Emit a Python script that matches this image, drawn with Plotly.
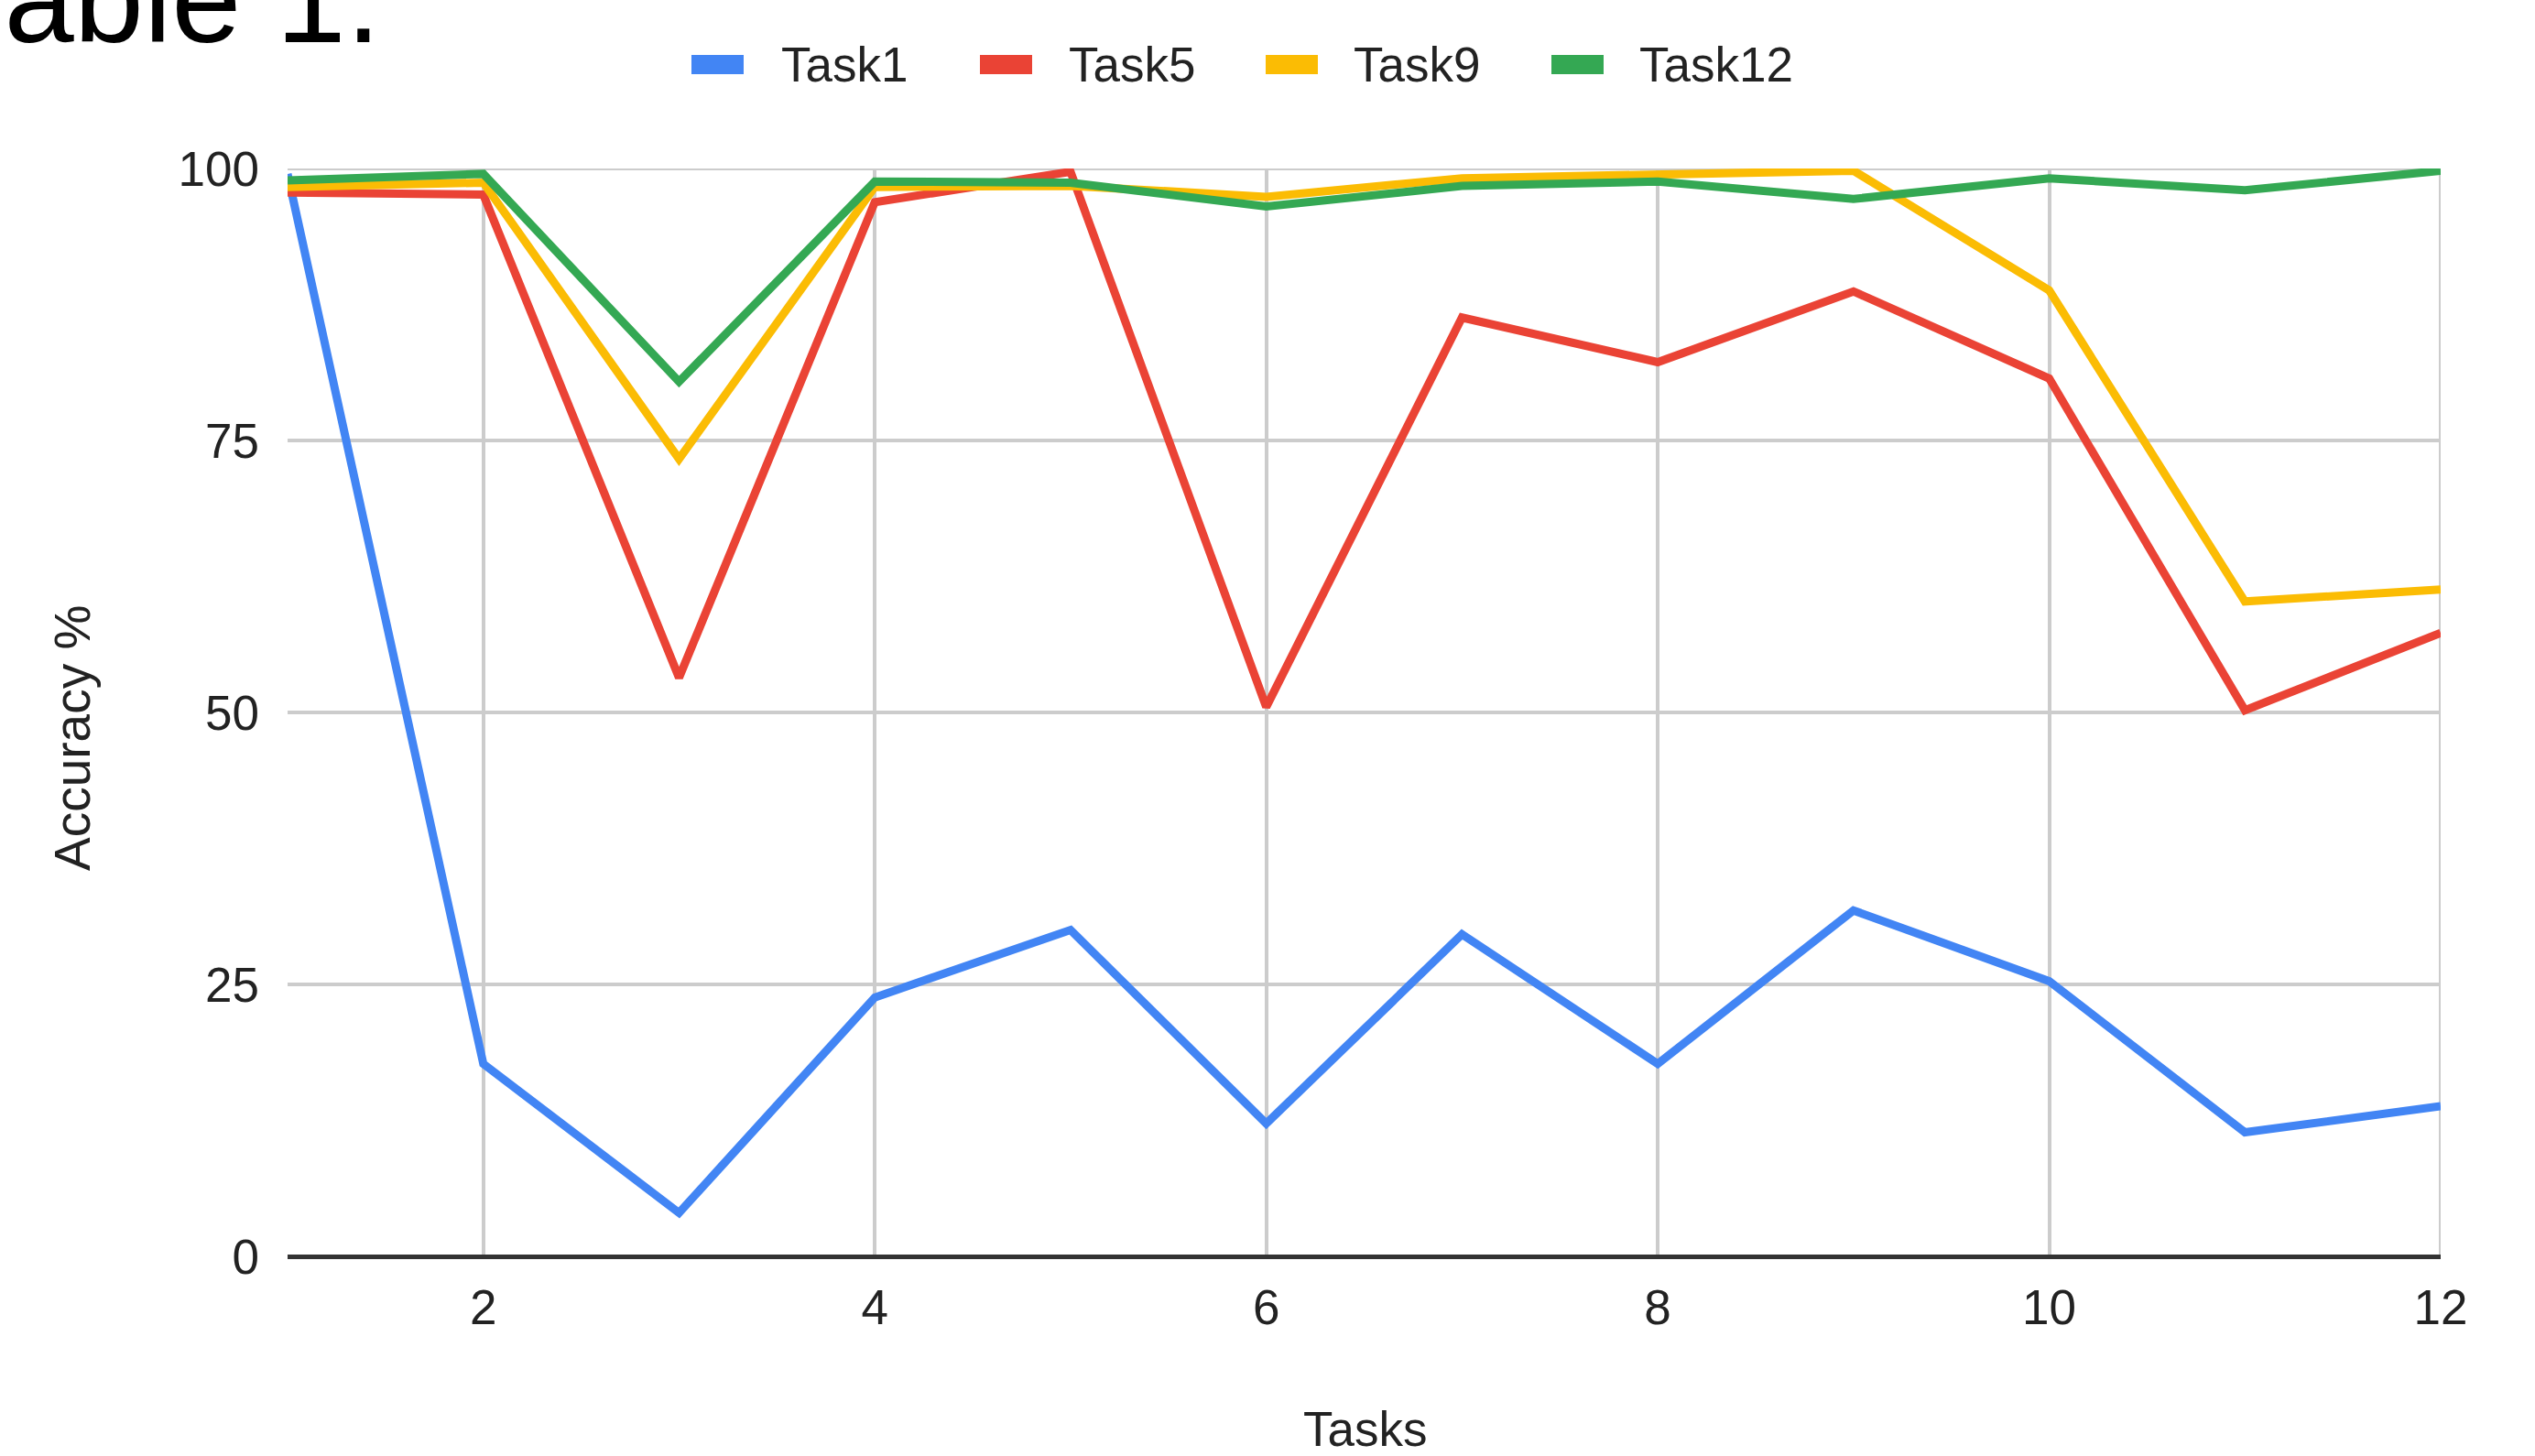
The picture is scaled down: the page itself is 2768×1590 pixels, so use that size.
import plotly.graph_objects as go

# Accuracy (%) on each earlier task after training on tasks 1..12
tasks = list(range(1, 13))
task1 = [99.5, 17.7, 4.0, 23.8, 30.0, 12.2, 29.6, 17.7, 31.8, 25.3, 11.4, 13.8]
task5 = [97.8, 97.6, 53.2, 96.9, 99.7, 50.5, 86.3, 82.2, 88.7, 80.7, 50.2, 57.3]
task9 = [98.3, 98.7, 73.3, 98.3, 98.4, 97.4, 99.1, 99.4, 99.8, 88.8, 60.2, 61.3]
task12 = [98.9, 99.5, 80.4, 98.8, 98.7, 96.5, 98.4, 98.8, 97.2, 99.1, 98.0, 99.8]

series_names = ["Task1", "Task5", "Task9", "Task12"]
series_values = [task1, task5, task9, task12]
series_colors = ["#4285F4", "#EA4335", "#FBBC04", "#34A853"]

x_ticks = [2, 4, 6, 8, 10, 12]
y_ticks = [0, 25, 50, 75, 100]
x_range = [1, 12]
y_range = [0, 100]

W, H = 2768, 1590
ML, MR, MT, MB = 314, 103, 184, 218
PW, PH = W - ML - MR, H - MT - MB
FONT = "Liberation Sans, Arial, sans-serif"
TXT = "#222222"
FS = 53
GRID = "#cccccc"
GRID_W = 4


def px_x(p):
    return (p - ML) / PW


def px_y(p):
    return (H - MB - p) / PH


fig = go.Figure()
for name, vals, color in zip(series_names, series_values, series_colors):
    fig.add_trace(go.Scatter(
        x=tasks, y=vals, name=name, mode="lines",
        line=dict(color=color, width=9), showlegend=False,
    ))

shapes = []
annotations = []

# grid lines along the top and right edges of the plot area
shapes.append(dict(type="line", xref="x", yref="y", layer="below",
                   x0=x_range[1], x1=x_range[1], y0=y_range[0], y1=y_range[1],
                   line=dict(color=GRID, width=GRID_W)))
shapes.append(dict(type="line", xref="x", yref="y", layer="below",
                   x0=x_range[0], x1=x_range[1], y0=y_range[1], y1=y_range[1],
                   line=dict(color=GRID, width=GRID_W)))

# legend row: colored swatch + label for each series
swatch_left = [755, 1070, 1382, 1694]
label_left = [851, 1165, 1476, 1788]
for name, color, sx, lx in zip(series_names, series_colors, swatch_left, label_left):
    shapes.append(dict(type="rect", xref="paper", yref="paper",
                       x0=px_x(sx), x1=px_x(sx + 57), y0=px_y(81), y1=px_y(60),
                       fillcolor=color, line=dict(width=0)))
    annotations.append(dict(text=name, xref="paper", yref="paper",
                            x=px_x(lx), y=px_y(70.6), xanchor="left", yanchor="middle",
                            showarrow=False, font=dict(family=FONT, size=FS, color=TXT)))

# axis titles
annotations.append(dict(text="Tasks", xref="paper", yref="paper",
                        x=px_x(1490), y=px_y(1560), xanchor="center", yanchor="middle",
                        showarrow=False, font=dict(family=FONT, size=FS, color=TXT)))
annotations.append(dict(text="Accuracy %", xref="paper", yref="paper", textangle=-90,
                        x=px_x(79), y=px_y(806), xanchor="center", yanchor="middle",
                        showarrow=False, font=dict(family=FONT, size=55, color=TXT)))

# caption fragment running off the top-left edge
annotations.append(dict(text="Table 1.", xref="paper", yref="paper",
                        x=px_x(418), y=px_y(77), xanchor="right", yanchor="bottom",
                        showarrow=False, font=dict(family=FONT, size=137, color="#000000")))

fig.update_layout(
    width=W, height=H,
    margin=dict(l=ML, r=MR, t=MT, b=MB, autoexpand=False),
    paper_bgcolor="white", plot_bgcolor="white",
    shapes=shapes, annotations=annotations,
    font=dict(family=FONT, size=FS, color=TXT),
)
fig.update_xaxes(
    range=x_range, tickvals=x_ticks, showgrid=True, gridcolor=GRID, gridwidth=GRID_W,
    zeroline=False, showline=False, ticks="", ticklabelstandoff=20,
    tickfont=dict(family=FONT, size=FS, color=TXT),
)
fig.update_yaxes(
    range=y_range, tickvals=y_ticks, showgrid=True, gridcolor=GRID, gridwidth=GRID_W,
    zeroline=True, zerolinecolor="#333333", zerolinewidth=4.5, showline=False,
    ticks="", ticklabelstandoff=30,
    tickfont=dict(family=FONT, size=FS, color=TXT),
)

fig.write_html("out.html")
